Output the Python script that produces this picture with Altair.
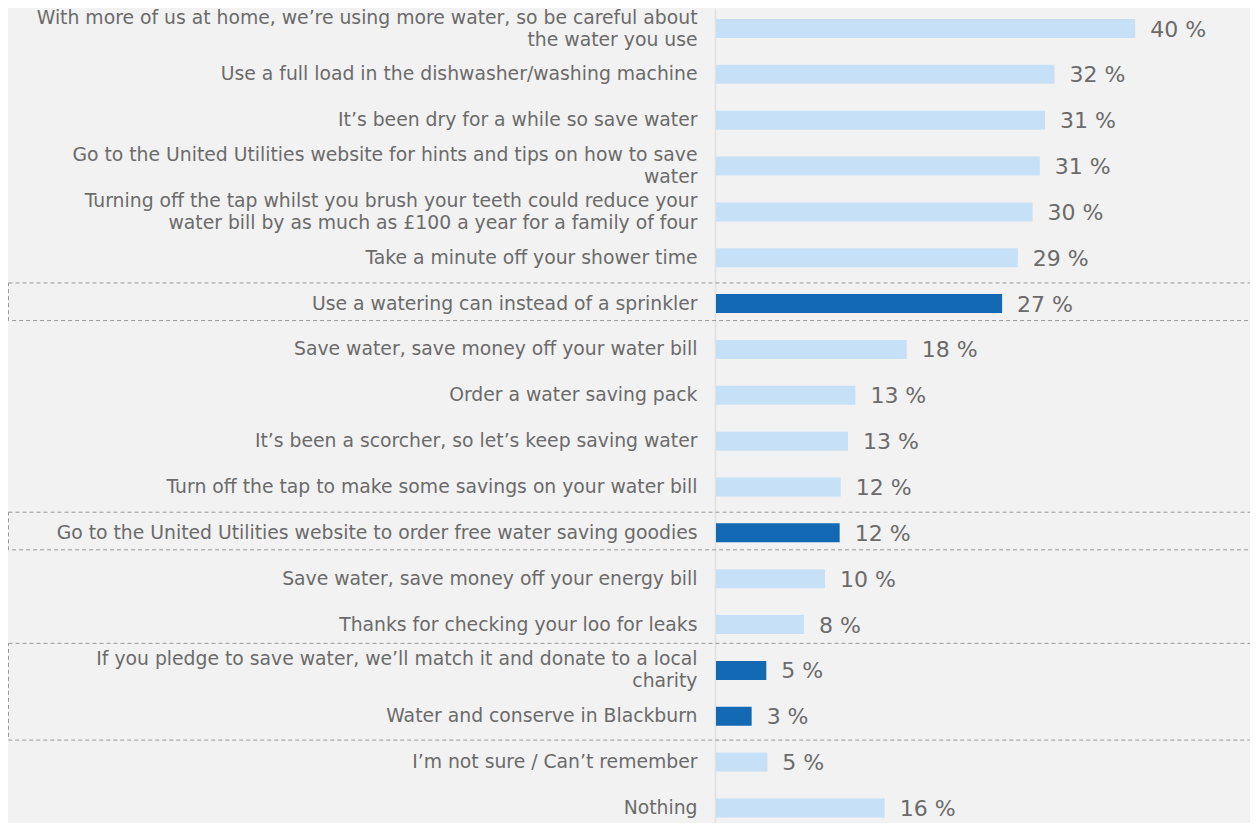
import altair as alt
import pandas as pd

labels = [
    "With more of us at home, we’re using more water, so be careful about\nthe water you use",
    "Use a full load in the dishwasher/washing machine",
    "It’s been dry for a while so save water",
    "Go to the United Utilities website for hints and tips on how to save\nwater",
    "Turning off the tap whilst you brush your teeth could reduce your\nwater bill by as much as £100 a year for a family of four",
    "Take a minute off your shower time",
    "Use a watering can instead of a sprinkler",
    "Save water, save money off your water bill",
    "Order a water saving pack",
    "It’s been a scorcher, so let’s keep saving water",
    "Turn off the tap to make some savings on your water bill",
    "Go to the United Utilities website to order free water saving goodies",
    "Save water, save money off your energy bill",
    "Thanks for checking your loo for leaks",
    "If you pledge to save water, we’ll match it and donate to a local\ncharity",
    "Water and conserve in Blackburn",
    "I’m not sure / Can’t remember",
    "Nothing",
]
values = [40.0, 32.3, 31.4, 30.9, 30.2, 28.8, 27.3, 18.2, 13.3, 12.6,
          11.9, 11.8, 10.4, 8.4, 4.8, 3.4, 4.9, 16.1]
highlight = [False, False, False, False, False, False, True, False, False, False,
             False, True, False, False, True, True, False, False]
box_first = [6, 11, 14]
box_last = [6, 11, 15]

# layout constants
ROW_STEP = 45.85
BAR_H = 19
FIRST_CENTER = 20.5
N = len(labels)
P_INNER = 1 - BAR_H / ROW_STEP
P_OUTER = (FIRST_CENTER - BAR_H / 2) / ROW_STEP
RANGE_H = ROW_STEP * (N - P_INNER + 2 * P_OUTER)
PLOT_H = 815
PLOT_W = 524
PAD_LEFT = 708
LINE_H = 22

TEXT_COLOR = "#6b6b6b"
FONT = "DejaVu Sans"

df = pd.DataFrame({
    "label": labels,
    "value": values,
    "hl": ["yes" if h else "no" for h in highlight],
})
boxes = pd.DataFrame({"first": box_first, "last": box_last})

y_scale = alt.Scale(domain=labels, paddingInner=P_INNER, paddingOuter=P_OUTER,
                    range=[0, RANGE_H])
x_scale = alt.Scale(domain=[0, 50])

base = alt.Chart(df)

bars = base.mark_bar().encode(
    y=alt.Y(
        "label:N", sort=None, scale=y_scale,
        axis=alt.Axis(
            title=None, orient="left", labelExpr="split(datum.label, '\\n')",
            ticks=False, tickSize=0, labelPadding=18, labelFont=FONT,
            labelFontSize=18.8, labelColor=TEXT_COLOR, labelLimit=0,
            labelLineHeight=LINE_H,
            labelOffset={"condition": {"test": "indexof(datum.value, '\\n') >= 0",
                                       "value": -LINE_H / 2},
                         "value": 0},
            domainColor="#e0e0e0", domainWidth=1.5,
            grid=False, offset=1,
        ),
    ),
    x=alt.X("value:Q", scale=x_scale, axis=None),
    color=alt.Color("hl:N", scale=alt.Scale(domain=["no", "yes"],
                                            range=["#c6e0f7", "#1368b3"]),
                    legend=None),
)

texts = base.transform_calculate(
    txt="format(datum.value, '.0f') + ' %'"
).mark_text(
    align="left", baseline="middle", dx=15, dy=1, font=FONT, fontSize=22,
    color=TEXT_COLOR,
).encode(
    y=alt.Y("label:N", sort=None, scale=y_scale),
    x=alt.X("value:Q", scale=x_scale, axis=None),
    text="txt:N",
)

main = alt.layer(bars, texts)

d0 = -FIRST_CENTER / ROW_STEP
d1 = d0 + RANGE_H / ROW_STEP

box_chart = alt.Chart(boxes).transform_calculate(
    top="datum.first - (datum.first == datum.last ? 0.45 : 0.59)",
    bottom="datum.last + (datum.first == datum.last ? 0.37 : 0.52)",
).mark_rect(
    fillOpacity=0, stroke="#999999", strokeWidth=1, strokeDash=[4, 3],
).encode(
    y=alt.Y("top:Q", scale=alt.Scale(domain=[d1, d0], nice=False, zero=False,
                                     range=[RANGE_H, 0]), axis=None),
    y2="bottom:Q",
    x=alt.value(-PAD_LEFT + 0.5),
    x2=alt.value(PLOT_W + 80),
)

chart = alt.layer(box_chart, main).resolve_scale(y="independent").properties(
    width=PLOT_W,
    height=PLOT_H,
    autosize=alt.AutoSizeParams(type="none"),
    padding={"left": PAD_LEFT, "top": 0, "right": 10, "bottom": 0},
    background="#f2f2f2",
).configure_view(strokeWidth=0)

chart.save("out.html", embed_options={"renderer": "svg", "actions": False})
